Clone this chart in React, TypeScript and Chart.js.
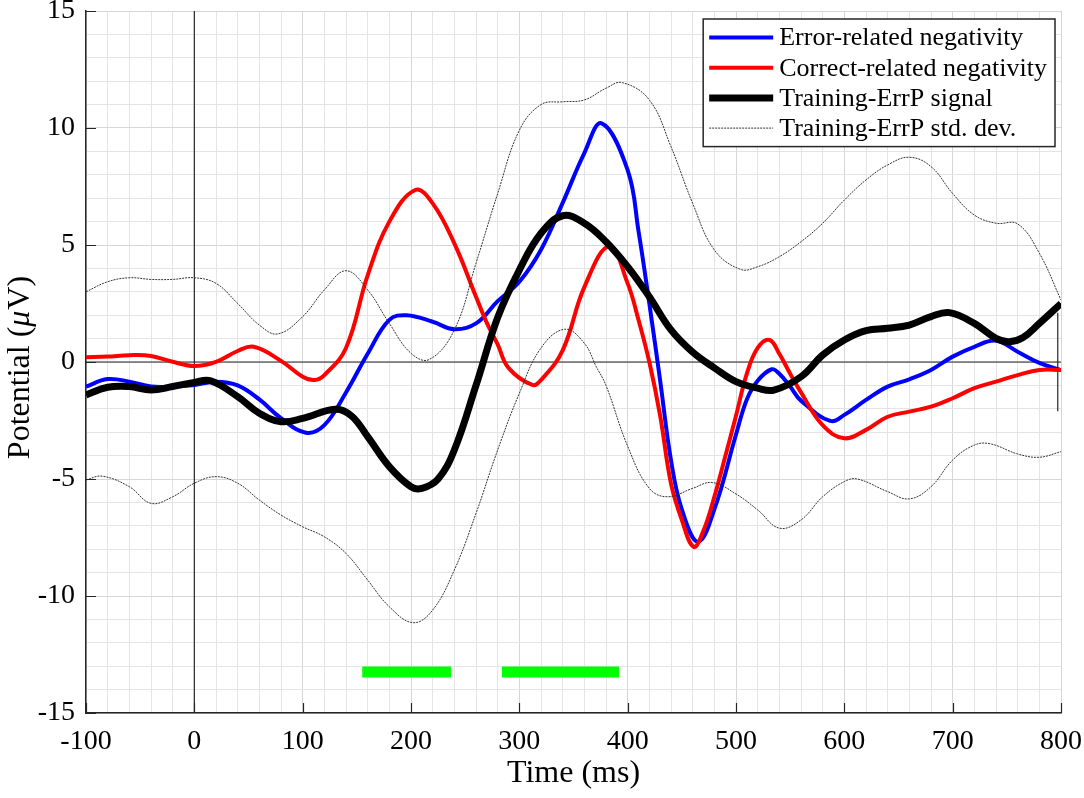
import React, { useEffect, useRef } from 'react';
import { Chart, registerables } from 'chart.js';

Chart.register(...registerables);

// ---------- Data ----------
const xTickLabels = [-100, 0, 100, 200, 300, 400, 500, 600, 700, 800];
const yTickLabels = [-15, -10, -5, 0, 5, 10, 15];

// Error-related negativity (blue)
const ernTime = [-100, -80, -60, -40, -20, 0, 20, 40, 60, 80, 103, 120, 140, 160, 180, 196, 220, 240, 260, 280, 300, 320, 340, 360, 376, 400, 410, 420, 430, 440, 450, 465, 480, 500, 510, 520, 533, 540, 550, 560, 587, 600, 620, 640, 660, 680, 700, 720, 740, 760, 780, 800];
const ernValues = [-1.05, -0.73, -0.84, -1.05, -1.05, -0.98, -0.84, -1.0, -1.6, -2.4, -3.02, -2.7, -1.3, 0.35, 1.8, 2.0, 1.72, 1.4, 1.65, 2.6, 3.43, 4.8, 6.8, 8.93, 10.2, 8.2, 5.6, 2.5, -0.8, -4.2, -6.3, -7.68, -6.3, -3.1, -1.6, -0.8, -0.31, -0.5, -1.05, -1.65, -2.52, -2.26, -1.62, -1.05, -0.74, -0.34, 0.23, 0.65, 0.91, 0.44, -0.04, -0.35];

// Correct-related negativity (red)
const creTime = [-100, -80, -60, -40, -20, 0, 20, 40, 55, 80, 100, 111, 120, 140, 160, 180, 204, 220, 240, 260, 270, 280, 290, 312, 320, 340, 360, 383, 400, 410, 420, 430, 440, 450, 461, 470, 480, 490, 500, 510, 520, 531, 540, 550, 560, 580, 600, 620, 640, 660, 680, 700, 720, 740, 760, 780, 800];
const creValues = [0.2, 0.23, 0.29, 0.26, 0.01, -0.17, 0.01, 0.47, 0.65, 0.05, -0.63, -0.77, -0.56, 0.6, 3.7, 6.0, 7.35, 6.78, 5.07, 2.79, 1.67, 0.75, -0.25, -0.98, -0.77, 0.5, 3.2, 4.95, 3.36, 1.8, 0, -2.3, -5.2, -6.75, -7.9, -7.2, -5.76, -4.05, -2.3, -0.5, 0.6, 0.94, 0.35, -0.5, -1.3, -2.7, -3.26, -2.9, -2.34, -2.12, -1.91, -1.55, -1.12, -0.84, -0.56, -0.34, -0.34];

// Training-ErrP signal (black)
const trainTime = [-100, -80, -60, -40, -20, 0, 15, 40, 60, 80, 100, 130, 145, 160, 180, 200, 210, 225, 240, 260, 280, 300, 320, 340, 360, 380, 400, 420, 440, 460, 480, 500, 520, 535, 560, 580, 600, 620, 640, 660, 680, 697, 720, 740, 752, 765, 780, 800];
const trainValues = [-1.41, -1.08, -1.05, -1.2, -1.05, -0.87, -0.8, -1.48, -2.19, -2.55, -2.41, -2.02, -2.3, -3.19, -4.47, -5.33, -5.4, -5.0, -3.76, -1.0, 1.9, 3.93, 5.5, 6.25, 5.93, 5.14, 4.07, 2.79, 1.37, 0.42, -0.25, -0.84, -1.12, -1.2, -0.63, 0.3, 0.94, 1.34, 1.44, 1.58, 1.94, 2.11, 1.65, 1.01, 0.87, 1.05, 1.65, 2.5];

// Training-ErrP std. dev. (upper / lower envelopes)
const stdUpTime = [-100, -80, -60, -40, -20, 0, 20, 40, 60, 77, 100, 120, 140, 160, 180, 200, 217, 240, 260, 280, 300, 320, 340, 360, 380, 395, 420, 440, 460, 480, 504, 520, 540, 560, 580, 600, 620, 640, 660, 680, 700, 720, 740, 760, 780, 800];
const stdUpValues = [3.0, 3.43, 3.6, 3.53, 3.53, 3.6, 3.36, 2.5, 1.58, 1.2, 1.94, 3.08, 3.9, 3.08, 1.65, 0.37, 0.11, 1.37, 4.22, 7.2, 9.9, 11.0, 11.12, 11.2, 11.7, 11.94, 11.2, 9.2, 6.78, 4.79, 3.96, 4.07, 4.5, 5.14, 5.93, 6.92, 7.78, 8.42, 8.75, 8.35, 7.2, 6.28, 5.93, 5.9, 4.65, 2.65];
const stdLoTime = [-100, -85, -60, -40, -20, 0, 20, 40, 60, 80, 100, 120, 140, 160, 180, 202, 220, 240, 260, 280, 300, 320, 342, 360, 371, 380, 400, 420, 437, 460, 478, 500, 520, 540, 560, 580, 600, 612, 640, 660, 680, 700, 720, 735, 760, 780, 800];
const stdLoValues = [-5.04, -4.88, -5.33, -6.04, -5.76, -5.18, -4.9, -5.18, -5.9, -6.54, -7.04, -7.47, -8.18, -9.32, -10.46, -11.14, -10.6, -8.89, -6.47, -3.76, -1.34, 0.6, 1.4, 0.8, -0.2, -1.0, -3.6, -5.4, -5.76, -5.4, -5.15, -5.64, -6.32, -7.1, -6.75, -5.76, -5.11, -5.0, -5.54, -5.85, -5.33, -4.19, -3.55, -3.5, -3.93, -4.07, -3.83];

// Significant intervals (green bars)
const sigInterval1 = [155, 237];
const sigInterval2 = [284, 392];
const sigLevel = -13.25;

// Reference lines
const baselineTime = [-100, 800];
const onsetRange = [-15, 15];
const endMarkTime = 797;
const endMarkRange = [-2.1, 2.1];

// ---------- helpers ----------
const pts = (xs: number[], ys: number[]) => xs.map((x, i) => ({ x, y: ys[i] }));
const FONT = '"Liberation Serif", "Times New Roman", Times, serif';

const decorPlugin = {
  id: 'decor',
  afterDraw(chart: any) {
    const { ctx, chartArea: a, scales } = chart;
    const xs = scales.x;
    const ys = scales.y;
    ctx.save();
    // inward major tick marks
    ctx.strokeStyle = '#262626';
    ctx.lineWidth = 1.2;
    ctx.beginPath();
    xTickLabels.forEach((v) => {
      const px = Math.round(xs.getPixelForValue(v)) + 0.5;
      ctx.moveTo(px, a.bottom);
      ctx.lineTo(px, a.bottom - 10);
    });
    yTickLabels.forEach((v) => {
      const py = Math.round(ys.getPixelForValue(v)) + 0.5;
      ctx.moveTo(a.left, py);
      ctx.lineTo(a.left + 10, py);
    });
    ctx.stroke();

    // y-axis title with italic mu
    const size = 32;
    const parts = [
      { t: 'Potential (', f: `${size}px ${FONT}` },
      { t: 'μ', f: `italic ${size}px ${FONT}` },
      { t: 'V)', f: `${size}px ${FONT}` },
    ];
    let total = 0;
    parts.forEach((p) => {
      ctx.font = p.f;
      total += ctx.measureText(p.t).width;
    });
    ctx.translate(29, (a.top + a.bottom) / 2 + 6);
    ctx.rotate(-Math.PI / 2);
    ctx.fillStyle = '#000';
    ctx.textBaseline = 'alphabetic';
    ctx.textAlign = 'left';
    let cx = -total / 2;
    parts.forEach((p) => {
      ctx.font = p.f;
      ctx.fillText(p.t, cx, 0);
      cx += ctx.measureText(p.t).width + (p.t === 'μ' ? 1 : 0);
    });
    ctx.restore();

    // legend inside the plot, top-right
    ctx.save();
    const entries = chart.data.datasets.filter((d: any) => d.label);
    ctx.font = `26px ${FONT}`;
    let maxW = 0;
    entries.forEach((d: any) => {
      maxW = Math.max(maxW, ctx.measureText(d.label).width);
    });
    const sampleW = 64;
    const boxW = 6 + sampleW + 6 + maxW + 8;
    const rowH = 30.2;
    const boxH = 18.5 + rowH * (entries.length - 1) + 18.5;
    const bx = a.right - 6 - boxW;
    const by = a.top + 8;
    ctx.fillStyle = '#fff';
    ctx.fillRect(bx, by, boxW, boxH);
    ctx.strokeStyle = '#262626';
    ctx.lineWidth = 1.5;
    ctx.strokeRect(bx, by, boxW, boxH);
    entries.forEach((d: any, i: number) => {
      const cy = by + 18.5 + i * rowH;
      ctx.beginPath();
      ctx.strokeStyle = d.borderColor;
      ctx.lineWidth = d.borderWidth;
      ctx.setLineDash(d.borderDash || []);
      ctx.lineCap = 'butt';
      ctx.moveTo(bx + 6, cy);
      ctx.lineTo(bx + 6 + sampleW, cy);
      ctx.stroke();
      ctx.setLineDash([]);
      ctx.fillStyle = '#000';
      ctx.textBaseline = 'middle';
      ctx.textAlign = 'left';
      ctx.fillText(d.label, bx + 6 + sampleW + 6, cy + 1);
    });
    ctx.restore();
  },
};

export default function App() {
  const ref = useRef<HTMLCanvasElement | null>(null);

  useEffect(() => {
    if (!ref.current) return;
    const lineBase = {
      pointRadius: 0,
      pointHoverRadius: 0,
      fill: false,
      tension: 0.4,
    };
    const straight = { pointRadius: 0, pointHoverRadius: 0, fill: false, tension: 0 };
    const chart = new Chart(ref.current, {
      type: 'line',
      data: {
        datasets: [
          {
            ...lineBase,
            label: 'Error-related negativity',
            data: pts(ernTime, ernValues),
            borderColor: '#0000ff',
            borderWidth: 4,
            borderJoinStyle: 'round',
            order: 3,
          },
          {
            ...lineBase,
            label: 'Correct-related negativity',
            data: pts(creTime, creValues),
            borderColor: '#ff0000',
            borderWidth: 4,
            borderJoinStyle: 'round',
            order: 2,
          },
          {
            ...lineBase,
            label: 'Training-ErrP signal',
            data: pts(trainTime, trainValues),
            borderColor: '#000000',
            borderWidth: 7,
            borderJoinStyle: 'round',
            order: 1,
          },
          {
            ...lineBase,
            label: 'Training-ErrP std. dev.',
            data: pts(stdUpTime, stdUpValues),
            borderColor: '#333333',
            borderWidth: 1,
            borderDash: [2, 1],
            order: 0,
          },
          {
            ...lineBase,
            label: '',
            data: pts(stdLoTime, stdLoValues),
            borderColor: '#333333',
            borderWidth: 1,
            borderDash: [2, 1],
            order: 0,
          },
          {
            ...straight,
            label: '',
            data: baselineTime.map((x) => ({ x, y: 0 })),
            borderColor: '#262626',
            borderWidth: 1.2,
            order: 5,
          },
          {
            ...straight,
            label: '',
            data: onsetRange.map((y) => ({ x: 0, y })),
            borderColor: '#262626',
            borderWidth: 1.2,
            order: 5,
          },
          {
            ...straight,
            label: '',
            data: endMarkRange.map((y) => ({ x: endMarkTime, y })),
            borderColor: '#262626',
            borderWidth: 1.2,
            order: 5,
          },
          {
            ...straight,
            label: '',
            data: sigInterval1.map((x) => ({ x, y: sigLevel })),
            borderColor: '#00ff00',
            borderWidth: 11,
            borderCapStyle: 'butt',
            order: 6,
          },
          {
            ...straight,
            label: '',
            data: sigInterval2.map((x) => ({ x, y: sigLevel })),
            borderColor: '#00ff00',
            borderWidth: 11,
            borderCapStyle: 'butt',
            order: 6,
          },
        ],
      },
      options: {
        responsive: false,
        animation: false,
        events: [],
        layout: { padding: { top: 11, right: 23, left: 0, bottom: 0 } },
        plugins: {
          legend: { display: false },
          tooltip: { enabled: false },
          title: { display: false },
        },
        scales: {
          x: {
            type: 'linear',
            min: -100,
            max: 800,
            ticks: {
              stepSize: 20,
              autoSkip: false,
              maxRotation: 0,
              padding: 12,
              color: '#000',
              font: { family: FONT, size: 28 },
              callback: (v: any) => (xTickLabels.includes(Number(v)) ? String(v) : ''),
            },
            grid: {
              drawTicks: false,
              color: (c: any) => (c.tick && c.tick.value % 100 === 0 ? '#d6d6d6' : '#e4e4e4'),
              lineWidth: 1,
            },
            border: { display: true, color: '#262626', width: 1.5 },
            title: {
              display: true,
              text: 'Time (ms)',
              color: '#000',
              font: { family: FONT, size: 32 },
              padding: { top: 0, bottom: 5 },
            },
            afterFit: (s: any) => {
              s.height = 85;
              s.paddingLeft = 0;
              s.paddingRight = 0;
            },
          },
          y: {
            type: 'linear',
            min: -15,
            max: 15,
            ticks: {
              stepSize: 1,
              autoSkip: false,
              padding: 11,
              color: '#000',
              font: { family: FONT, size: 28 },
              callback: (v: any) => (yTickLabels.includes(Number(v)) ? String(v) : ''),
            },
            grid: {
              drawTicks: false,
              color: (c: any) => (c.tick && c.tick.value % 5 === 0 ? '#d6d6d6' : '#e4e4e4'),
              lineWidth: 1,
            },
            border: { display: true, color: '#262626', width: 1.5 },
            afterFit: (s: any) => {
              s.width = 86;
              s.paddingTop = 0;
              s.paddingBottom = 0;
            },
          },
        },
      },
      plugins: [decorPlugin],
    });
    return () => chart.destroy();
  }, []);

  return (
    <div style={{ position: 'absolute', left: 0, top: 0, width: 1084, height: 798, background: '#fff' }}>
      <canvas ref={ref} width={1084} height={798} style={{ width: 1084, height: 798, display: 'block' }} />
    </div>
  );
}
